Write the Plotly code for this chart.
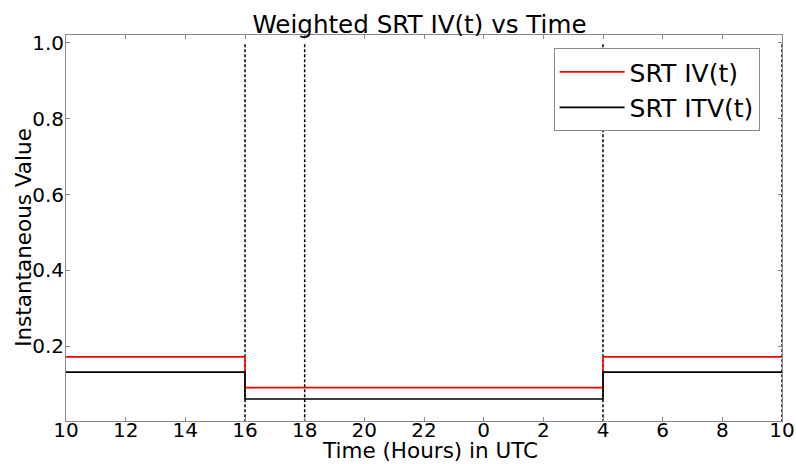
import plotly.graph_objects as go

# step values (hours on a continuous 10..34 scale, 24+ = next day)
hours = [10, 16, 28, 34]
srt_iv = [0.172, 0.091, 0.172, 0.172]
srt_itv = [0.132, 0.061, 0.132, 0.132]

# dashed markers
vline_hours = [16, 18, 28, 34]
vline_bottom = 0.0
vline_top = 1.0

tick_vals = [10, 12, 14, 16, 18, 20, 22, 24, 26, 28, 30, 32, 34]
tick_text = ['10', '12', '14', '16', '18', '20', '22', '0', '2', '4', '6', '8', '10']
ytick_vals = [0.2, 0.4, 0.6, 0.8, 1.0]
ytick_text = ['0.2', '0.4', '0.6', '0.8', '1.0']

FONT = 'DejaVu Sans'
SPINE = '#8a8a8a'

fig = go.Figure()

vx, vy = [], []
for h in vline_hours:
    vx += [h, h, None]
    vy += [vline_bottom, vline_top, None]
fig.add_trace(go.Scatter(
    x=vx, y=vy, mode='lines', showlegend=False, hoverinfo='skip',
    line=dict(color='black', width=1.5, dash='3px,2px')
))

fig.add_trace(go.Scatter(
    x=hours, y=srt_iv, name='SRT IV(t)', mode='lines', line_shape='hv',
    line=dict(color='#ff0000', width=1.6), legendgroup='a'
))
fig.add_trace(go.Scatter(
    x=hours, y=srt_itv, name='SRT ITV(t)', mode='lines', line_shape='hv',
    line=dict(color='black', width=1.6), legendgroup='b'
))

fig.update_layout(
    width=796, height=464,
    margin=dict(l=66, r=14, t=35, b=43),
    paper_bgcolor='white', plot_bgcolor='white',
    font=dict(family=FONT, size=20, color='black'),
    title=dict(text='Weighted SRT IV(t) vs Time', x=0.527, xanchor='center',
               yref='container', y=1 - 24 / 464, yanchor='middle',
               font=dict(size=24.6)),
    legend=dict(x=0.681, y=0.966, xanchor='left', yanchor='top',
                bgcolor='white', bordercolor=SPINE, borderwidth=1,
                font=dict(size=25), tracegroupgap=0, itemwidth=65),
    showlegend=True,
    annotations=[
        dict(text='Time (Hours) in UTC', xref='paper', yref='paper',
             x=0.508, y=-0.077, xanchor='center', yanchor='middle',
             showarrow=False, font=dict(size=21.5)),
        dict(text='Instantaneous Value', xref='paper', yref='paper',
             x=-0.0587, y=0.477, xanchor='center', yanchor='middle',
             textangle=-90, showarrow=False, font=dict(size=21.5)),
    ],
)

fig.update_xaxes(
    range=[10, 34], tickvals=tick_vals, ticktext=tick_text, automargin=False,
    showgrid=False, zeroline=False, showline=True, linecolor=SPINE, linewidth=1,
    mirror='ticks', ticks='inside', ticklen=4, tickcolor=SPINE,
    ticklabelstandoff=-9,
)
fig.update_yaxes(
    range=[0.003, 1.021], tickvals=ytick_vals, ticktext=ytick_text, automargin=False,
    showgrid=False, zeroline=False, showline=True, linecolor=SPINE, linewidth=1,
    mirror='ticks', ticks='inside', ticklen=4, tickcolor=SPINE,
    ticklabelstandoff=-3,
)

# page body has an 8px default margin; drop it so the figure sits at 0,0
fig.write_html('out.html', config={'displayModeBar': False},
               post_script="document.body.style.margin='0';")
